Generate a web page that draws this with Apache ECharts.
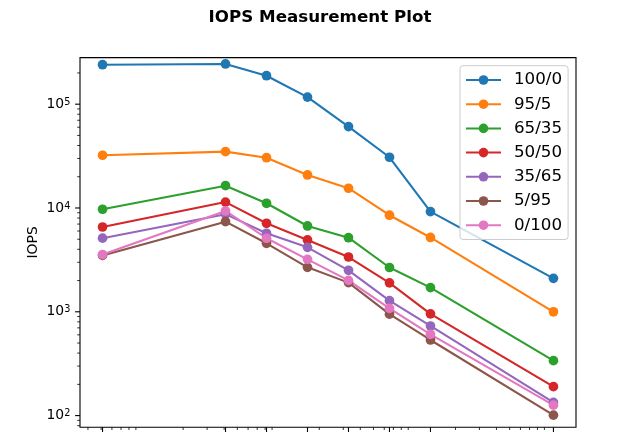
<!DOCTYPE html>
<html>
<head>
<meta charset="utf-8">
<script src="https://cdn.jsdelivr.net/npm/echarts@6.0.0/dist/echarts.min.js"></script>
<style>
html,body{margin:0;padding:0;background:#fff;}
#chart{width:640px;height:432px;}
</style>
</head>
<body>
<div id="chart"></div>
<script>
// Block sizes (x values, log scale)
const blockSizes = [512, 4096, 8192, 16384, 32768, 65536, 131072, 1048576];

// Read/write mix names
const seriesNames = ['100/0', '95/5', '65/35', '50/50', '35/65', '5/95', '0/100'];

// IOPS values for each mix
const iops100_0 = [240000, 244000, 188000, 117000, 60800, 30800, 9210, 2100];
const iops95_5  = [32200, 34900, 30500, 20800, 15500, 8520, 5200, 1000];
const iops65_35 = [9720, 16400, 11100, 6710, 5170, 2670, 1710, 338];
const iops50_50 = [6560, 11400, 7120, 4920, 3370, 1900, 956, 190];
const iops35_65 = [5120, 8720, 5710, 4180, 2510, 1280, 730, 134];
const iops5_95  = [3490, 7380, 4570, 2680, 1910, 948, 535, 101];
const iops0_100 = [3560, 9360, 5110, 3200, 2010, 1080, 607, 126];

// Axis ranges and ticks
const xRange = [349.7, 1535600];
const yRange = [77.3, 281000];
const yMajorTicks = [100, 1000, 10000, 100000];
const minorSubs = [2, 3, 4, 5, 6, 7, 8, 9];
const decades = [1, 10, 100, 1000, 10000, 100000, 1000000];

const colors = ['#1f77b4', '#ff7f0e', '#2ca02c', '#d62728', '#9467bd', '#8c564b', '#e377c2'];
const allSeries = [iops100_0, iops95_5, iops65_35, iops50_50, iops35_65, iops5_95, iops0_100];

// Build tick items: [x, y, kind] kind 0=x major,1=x minor,2=y major,3=y minor
const tickItems = [];
blockSizes.forEach(v => tickItems.push([v, yRange[0], 0]));
decades.forEach(d => minorSubs.forEach(k => {
  const v = d * k;
  if (v > xRange[0] && v < xRange[1]) tickItems.push([v, yRange[0], 1]);
  if (v > yRange[0] && v < yRange[1]) tickItems.push([xRange[0], v, 3]);
}));
yMajorTicks.forEach(v => tickItems.push([xRange[0], v, 2]));

const FONT = 'DejaVu Sans';

const lineSeries = seriesNames.map((name, i) => ({
  name: name,
  type: 'line',
  data: blockSizes.map((x, j) => [x, allSeries[i][j]]),
  symbol: 'circle',
  symbolSize: 9.7,
  showSymbol: true,
  lineStyle: { width: 2.1, color: colors[i] },
  itemStyle: { color: colors[i] },
  emphasis: { disabled: true },
  animation: false,
  z: 2
}));

const tickSeries = {
  type: 'custom',
  name: 'ticks',
  data: tickItems,
  silent: true,
  clip: false,
  animation: false,
  z: 5,
  renderItem: function (params, api) {
    const kind = api.value(2);
    const p = api.coord([api.value(0), api.value(1)]);
    const len = (kind === 0 || kind === 2) ? 4.9 : 2.8;
    const lw = (kind === 0 || kind === 2) ? 1.1 : 0.8;
    let shape;
    if (kind < 2) {
      shape = { x1: p[0], y1: p[1], x2: p[0], y2: p[1] + len };
    } else {
      shape = { x1: p[0] - len, y1: p[1], x2: p[0], y2: p[1] };
    }
    return { type: 'line', shape: shape, style: { stroke: '#000', lineWidth: lw } };
  }
};

const chart = echarts.init(document.getElementById('chart'), null, { renderer: 'canvas' });
chart.setOption({
  animation: false,
  backgroundColor: '#fff',
  textStyle: { fontFamily: FONT },
  title: {
    text: 'IOPS Measurement Plot',
    left: 'center',
    top: 4,
    textStyle: { fontFamily: FONT, fontSize: 16.7, fontWeight: 'bold', color: '#000' }
  },
  grid: {
    left: 80, top: 57.6, width: 496, height: 369.6,
    show: true, borderColor: '#000', borderWidth: 1.1, backgroundColor: 'transparent',
    containLabel: false
  },
  legend: {
    data: seriesNames,
    orient: 'vertical',
    left: 460,
    top: 65.7,
    padding: [4.3, 6, 4.3, 5],
    itemWidth: 35,
    itemHeight: 12,
    itemGap: 4.2,
    backgroundColor: 'rgba(255,255,255,0.8)',
    borderColor: '#cccccc',
    borderWidth: 1,
    borderRadius: 3,
    textStyle: { fontFamily: FONT, fontSize: 16.7, lineHeight: 20, color: '#000', padding: [0, 0, 0, 8] },
    selectedMode: false
  },
  xAxis: {
    type: 'log',
    logBase: 10,
    min: xRange[0],
    max: xRange[1],
    axisLine: { show: false },
    axisTick: { show: false },
    axisLabel: { show: false },
    splitLine: { show: false },
    minorTick: { show: false }
  },
  yAxis: {
    type: 'log',
    logBase: 10,
    min: yRange[0],
    max: yRange[1],
    name: 'IOPS',
    nameLocation: 'middle',
    nameRotate: 90,
    nameGap: 40,
    nameMoveOverlap: false,
    nameTextStyle: { fontFamily: FONT, fontSize: 13.9, color: '#000' },
    axisLine: { show: false },
    axisTick: { show: false },
    splitLine: { show: false },
    minorTick: { show: false },
    axisLabel: {
      showMinLabel: false,
      showMaxLabel: false,
      margin: 9.7,
      color: '#000',
      fontFamily: FONT,
      fontSize: 13.9,
      formatter: function (v) {
        const l = Math.log10(v);
        const n = Math.round(l);
        if (Math.abs(l - n) > 1e-6) return '';
        return '{b|10}{s|' + n + '}';
      },
      rich: {
        b: { fontFamily: FONT, fontSize: 13.9, lineHeight: 14, color: '#000' },
        s: { fontFamily: FONT, fontSize: 9.7, lineHeight: 7, verticalAlign: 'top', color: '#000' }
      }
    }
  },
  series: lineSeries.concat([tickSeries])
});
</script>
</body>
</html>
